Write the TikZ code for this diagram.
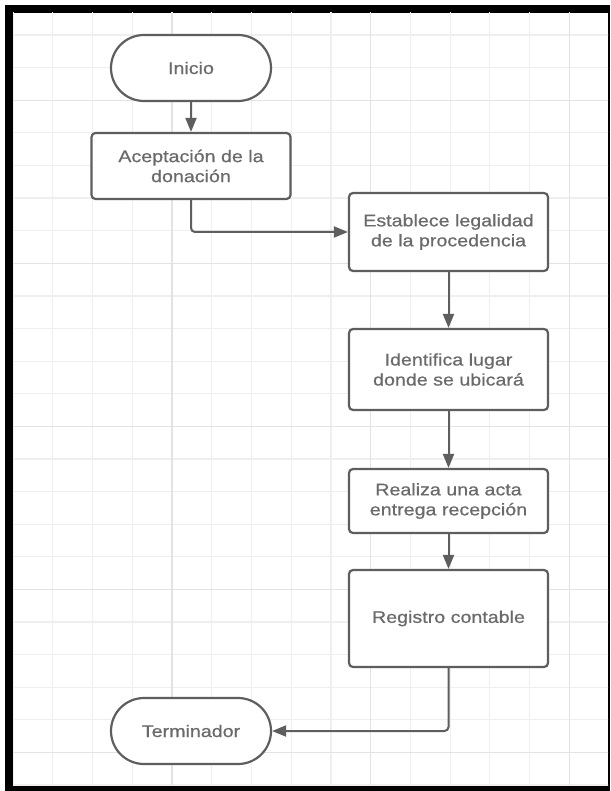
\documentclass[tikz,border=0pt]{standalone}
\usepackage{fontspec}
\setmainfont[FakeStretch=1.17,FakeBold=0.6]{Liberation Sans}
\usetikzlibrary{arrows.meta,shapes.misc}
\definecolor{linegray}{HTML}{5E5E5E}
\definecolor{txtgray}{HTML}{6A6A6A}
\definecolor{minorgrid}{HTML}{EFEFEF}
\definecolor{majorgrid}{HTML}{E3E3E3}
\begin{document}
\begin{tikzpicture}[x=1pt,y=-1pt,
  box/.style={draw=linegray,line width=2.2pt,fill=white,text=txtgray,align=center,
    font=\fontsize{16.8}{20}\selectfont,inner sep=0pt},
  process/.style={box,rectangle,rounded corners=4pt,minimum width=199pt},
  terminal/.style={box,rounded rectangle,minimum width=160pt,minimum height=66pt},
  flow/.style={draw=linegray,line width=2pt,-{Triangle[length=14pt,width=11pt]}}]
\useasboundingbox (0,0) rectangle (610,791);
\fill[white] (0,0) rectangle (610,791);
\fill[black] (5,5) rectangle (610,791);
\fill[white] (13,13) rectangle (608,785);
\begin{scope}
\clip (13,13) rectangle (608,785);
\draw[minorgrid,line width=1.2pt,xstep=39.74pt,ystep=32.6pt,shift={(13,2.5)}] (0,0) grid (600,790);
\foreach \gx in {172,370.7,569.4} \draw[majorgrid,line width=1.3pt] (\gx,13) -- (\gx,785);
\foreach \gy in {100.3,263.3,426.3,589.3,752.3} \draw[majorgrid,line width=1.3pt] (13,\gy) -- (608,\gy);
\end{scope}
\node[terminal] (inicio) at (191,68) {Inicio};
\node[process,minimum height=66pt] (acept) at (191,166) {Aceptación de la\\donación};
\node[process,minimum height=78pt] (estab) at (448.5,232) {Establece legalidad\\de la procedencia};
\node[process,minimum height=81pt] (ident) at (448.5,369.5) {Identifica lugar\\donde se ubicará};
\node[process,minimum height=64pt] (realiza) at (448.5,501) {Realiza una acta\\entrega recepción};
\node[process,minimum height=97pt] (registro) at (448.5,618.5) {Registro contable};
\node[terminal] (term) at (191,731) {Terminador};
\draw[flow] (inicio) -- (acept);
\draw[flow,rounded corners=4pt] (acept.south) |- (estab.west);
\draw[flow] (estab) -- (ident);
\draw[flow] (ident) -- (realiza);
\draw[flow] (realiza) -- (registro);
\draw[flow,rounded corners=4pt] (registro.south) |- (term.east);
\end{tikzpicture}
\end{document}
